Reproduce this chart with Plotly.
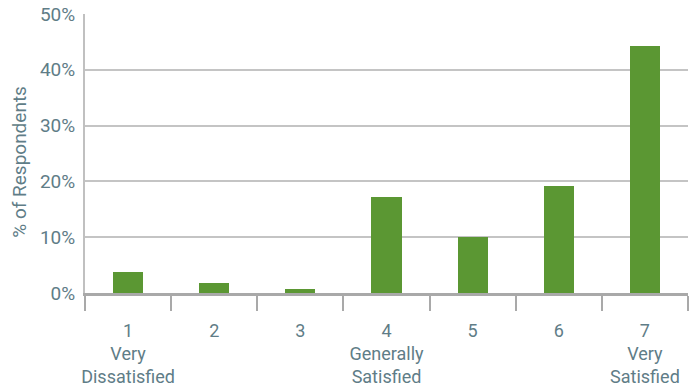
import plotly.graph_objects as go

# Satisfaction rating scale and share of respondents (%)
ratings = [1, 2, 3, 4, 5, 6, 7]
rating_labels = ["1<br>Very<br>Dissatisfied", "2", "3", "4<br>Generally<br>Satisfied",
                 "5", "6", "7<br>Very<br>Satisfied"]
pct_respondents = [3.8, 1.8, 0.8, 17.2, 10.0, 19.1, 44.2]
y_ticks = [0, 10, 20, 30, 40, 50]
y_tick_labels = [f"{v}%" for v in y_ticks]

TEXT = "#5f7d87"
BAR = "#5b9733"
FONT = "Roboto, sans-serif"

fig = go.Figure(
    go.Bar(x=ratings, y=pct_respondents, marker=dict(color=BAR, line=dict(width=0)),
           width=0.35)
)

fig.update_layout(
    width=696, height=390,
    margin=dict(l=85, r=8, t=14, b=97),
    paper_bgcolor="white", plot_bgcolor="white",
    font=dict(family=FONT, color=TEXT, size=18),
    showlegend=False,
    bargap=0,
)

fig.update_xaxes(
    range=[0.5, 7.5], automargin=False,
    tickvals=ratings, ticktext=rating_labels,
    ticks="", ticklabelstandoff=19,
    showgrid=False, zeroline=False,
    showline=True, linecolor="#a9a9a9", linewidth=3,
    minor=dict(tick0=0.5, dtick=1, ticks="outside", ticklen=15,
               tickcolor="#a9a9a9", tickwidth=2, showgrid=False),
    tickfont=dict(size=18, color=TEXT),
)

fig.update_yaxes(
    range=[0, 50], automargin=False,
    tickvals=y_ticks, ticktext=y_tick_labels,
    ticks="", ticklabelstandoff=4,
    showgrid=True, gridcolor="#c4c4c4", gridwidth=1.5,
    zeroline=False,
    showline=True, linecolor="#c0c0c0", linewidth=2,
    tickfont=dict(size=19, color=TEXT),
)

# Vertical axis title
fig.add_annotation(
    text="% of Respondents", textangle=-90,
    xref="paper", yref="paper", x=-0.108, y=0.47,
    xanchor="center", yanchor="middle", showarrow=False,
    font=dict(size=19, color=TEXT),
)

fig.write_html("out.html")
